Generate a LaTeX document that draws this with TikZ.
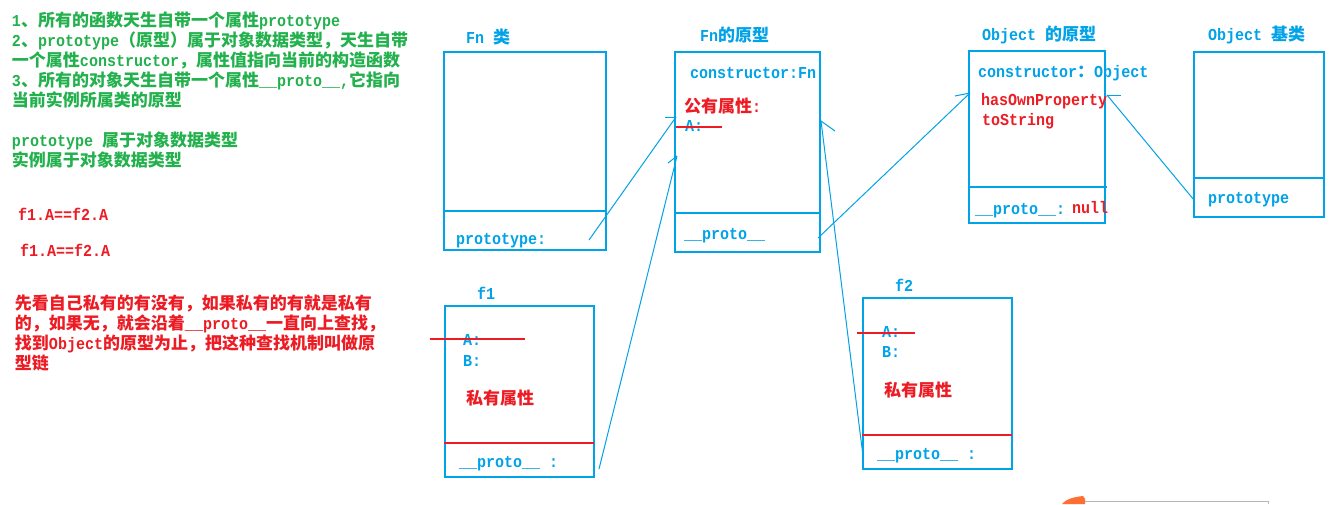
\documentclass[tikz,border=0pt]{standalone}
\usepackage{fontspec}
\setmainfont{Noto Sans CJK SC}
\newfontfamily\monofam{Liberation Mono}[FakeStretch=0.9]
\newcommand\mo[1]{{\monofam\bfseries\fontsize{16.7}{20}\selectfont #1}}
\definecolor{pgreen}{RGB}{34,177,76}
\definecolor{pred}{RGB}{237,28,36}
\definecolor{pblue}{RGB}{0,162,232}
\definecolor{porange}{RGB}{255,110,50}
\definecolor{pgray}{RGB}{180,182,192}
\begin{document}
\begin{tikzpicture}[x=1pt,y=-1pt,
  txt/.style={inner sep=0pt, outer sep=0pt, anchor=base west, font=\fontsize{17}{20}\selectfont\bfseries},
  gtxt/.style={txt, text=pgreen},
  rtxt/.style={txt, text=pred},
  btxt/.style={txt, text=pblue},
  bbox/.style={draw=pblue, line width=1.2pt, anchor=north west, inner sep=0pt, outer sep=0pt},
  bline/.style={draw=pblue, line width=1.2pt},
  rline/.style={draw=pred, line width=1.2pt},
  conn/.style={draw=pblue, line width=1pt}]
\useasboundingbox[fill=white] (0,0) rectangle (1334,504);

% green notes
\node[gtxt] (g1) at (12,26) {\mo{1}、所有的函数天生自带一个属性\mo{prototype}};
\node[gtxt] (g2) at (12,46) {\mo{2}、\mo{prototype}（原型）属于对象数据类型，天生自带};
\node[gtxt] (g3) at (12,66) {一个属性\mo{constructor}，属性值指向当前的构造函数};
\node[gtxt] (g4) at (12,86) {\mo{3}、所有的对象天生自带一个属性\mo{\_\_proto\_\_,}它指向};
\node[gtxt] (g5) at (12,106) {当前实例所属类的原型};
\node[gtxt] (g6) at (12,146) {\mo{prototype }属于对象数据类型};
\node[gtxt] (g7) at (12,166) {实例属于对象数据类型};

% red notes
\node[rtxt] (r1) at (18,220) {\mo{f1.A==f2.A}};
\node[rtxt] (r2) at (20,256) {\mo{f1.A==f2.A}};
\node[rtxt] (p1) at (15,309) {先看自己私有的有没有，如果私有的有就是私有};
\node[rtxt] (p2) at (15,329) {的，如果无，就会沿着\mo{\_\_proto\_\_}一直向上查找，};
\node[rtxt] (p3) at (15,349) {找到\mo{Object}的原型为止，把这种查找机制叫做原};
\node[rtxt] (p4) at (15,369) {型链};

% titles
\node[btxt] (t1) at (466,43) {\mo{Fn }类};
\node[btxt] (t2) at (700,41) {\mo{Fn}的原型};
\node[btxt] (t3) at (982,40) {\mo{Object }的原型};
\node[btxt] (t4) at (1208,40) {\mo{Object }基类};
\node[btxt] (t5) at (477,299) {\mo{f1}};
\node[btxt] (t6) at (895,291) {\mo{f2}};

% boxes
\node[bbox, minimum width=162pt, minimum height=198pt] (fnc) at (444,52) {};
\draw[bline] (444,211) -- (606,211);
\node[bbox, minimum width=145pt, minimum height=200pt] (fnp) at (675,52) {};
\draw[bline] (675,213) -- (820,213);
\node[bbox, minimum width=136pt, minimum height=172pt] (obp) at (969,51) {};
\draw[bline] (968,187) -- (1107,187);
\node[bbox, minimum width=130pt, minimum height=165pt] (obc) at (1194,52) {};
\draw[bline] (1194,178) -- (1324,178);
\node[bbox, minimum width=149pt, minimum height=171pt] (f1) at (445,306) {};
\draw[rline] (444,443) -- (594,443);
\node[bbox, minimum width=149pt, minimum height=171pt] (f2) at (863,298) {};
\draw[rline] (862,435) -- (1012,435);

% box contents
\node[btxt] (fncproto) at (456,244) {\mo{prototype:}};
\node[btxt] (fnpcons) at (690,78) {\mo{constructor:Fn}};
\node[rtxt] (fnppub) at (684,112) {公有属性\mo{:}};
\node[btxt] (fnpA) at (685,131) {\mo{A:}};
\draw[rline] (676,127) -- (722,127);
\node[btxt] (fnpproto) at (684,239) {\mo{\_\_proto\_\_}};

\node[btxt] (obpcons) at (978,77) {\mo{constructor}：\mo{Object}};
\node[rtxt] (obphas) at (981,105) {\mo{hasOwnProperty}};
\node[rtxt] (obpstr) at (982,125) {\mo{toString}};
\node[btxt] (obpproto) at (975,214) {\mo{\_\_proto\_\_: }};
\node[rtxt] (obpnull) at (1072,213) {\mo{null}};

\node[btxt] (obcproto) at (1208,203) {\mo{prototype}};

\node[btxt] (f1A) at (463,345) {\mo{A:}};
\node[btxt] (f1B) at (463,366) {\mo{B:}};
\draw[rline] (430,339) -- (525,339);
\node[rtxt] (f1priv) at (466,404) {私有属性};
\node[btxt] (f1proto) at (459,467) {\mo{\_\_proto\_\_ :}};

\node[btxt] (f2A) at (882,337) {\mo{A:}};
\node[btxt] (f2B) at (882,357) {\mo{B:}};
\draw[rline] (857,333) -- (915,333);
\node[rtxt] (f2priv) at (884,396) {私有属性};
\node[btxt] (f2proto) at (877,459) {\mo{\_\_proto\_\_ :}};

% connectors
\coordinate (c1s) at (589,240); \coordinate (c1e) at (676,117); \coordinate (c1t) at (665,117);
\draw[conn] (c1s) -- (c1e); \draw[conn] (c1t) -- (c1e);
\coordinate (c2s) at (599,469); \coordinate (c2e) at (677,156); \coordinate (c2t) at (668,163);
\draw[conn] (c2s) -- (c2e); \draw[conn] (c2t) -- (c2e);
\coordinate (c3s) at (818,238); \coordinate (c3e) at (970,93); \coordinate (c3t) at (955,96);
\draw[conn] (c3s) -- (c3e); \draw[conn] (c3t) -- (c3e);
\coordinate (c4s) at (1194,200); \coordinate (c4e) at (1107,95); \coordinate (c4t) at (1121,95);
\draw[conn] (c4s) -- (c4e); \draw[conn] (c4t) -- (c4e);
\coordinate (c5s) at (863,456); \coordinate (c5e) at (821,121); \coordinate (c5t) at (835,131);
\draw[conn] (c5s) -- (c5e); \draw[conn] (c5t) -- (c5e);

% bottom-right fragments
\fill[porange] (1062,504) .. controls (1066,499) and (1074,497) .. (1083,496) -- (1085,499) -- (1085,504) -- cycle;
\draw[pgray, line width=1pt] (1085,501) -- (1268,501) -- (1268,504);
\end{tikzpicture}
\end{document}
